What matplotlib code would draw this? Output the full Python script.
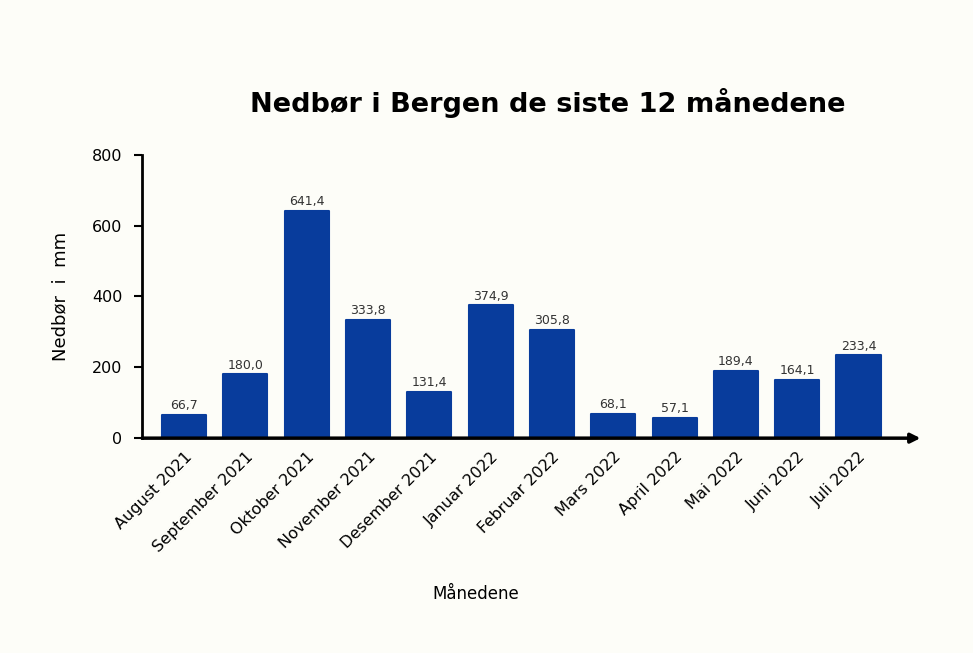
import matplotlib.pyplot as plt

months = ['August 2021', 'September 2021', 'Oktober 2021', 'November 2021',
          'Desember 2021', 'Januar 2022', 'Februar 2022', 'Mars 2022',
          'April 2022', 'Mai 2022', 'Juni 2022', 'Juli 2022']
nedbor = [66.7, 180.0, 641.4, 333.8, 131.4, 374.9, 305.8, 68.1, 57.1, 189.4, 164.1, 233.4]
yticks = [0, 200, 400, 600, 800]

bg = '#fdfdf8'
blue = '#083c9c'

fig = plt.figure(figsize=(9.73, 6.53), dpi=100, facecolor=bg)
ax = fig.add_axes([0.146, 0.329, 0.80, 0.434], facecolor=bg)

x = list(range(len(months)))
ax.bar(x, nedbor, width=0.72, color=blue, edgecolor=blue, linewidth=1.5,
       joinstyle='round', zorder=2)

for xi, v in zip(x, nedbor):
    ax.text(xi, v + 8, f'{v:.1f}'.replace('.', ','), ha='center', va='bottom',
            fontsize=9, color='#333333')

ax.set_xlim(-0.685, 12.01)
ax.set_ylim(0, 800)
ax.set_yticks(yticks)
ax.set_yticklabels([str(t) for t in yticks], fontsize=11.5)
ax.set_xticks(x)
ax.set_xticklabels(months, rotation=45, ha='right', rotation_mode='anchor', fontsize=11.5)
ax.tick_params(axis='x', length=0, pad=8)
ax.tick_params(axis='y', length=6, width=1.5, pad=8)

for s in ['top', 'right']:
    ax.spines[s].set_visible(False)
ax.spines['left'].set_linewidth(2)
ax.spines['bottom'].set_visible(False)
ax.annotate('', xy=(12.01, 0), xytext=(-0.685, 0), xycoords='data',
            arrowprops=dict(arrowstyle='-|>', color='black', lw=2.5,
                            mutation_scale=14, shrinkA=0, shrinkB=0),
            annotation_clip=False, zorder=3)

ax.set_ylabel('Nedbør  i  mm', fontsize=13, labelpad=16)
fig.text(0.489, 0.09, 'Månedene', ha='center', va='center', fontsize=12)
fig.text(0.563, 0.842, 'Nedbør i Bergen de siste 12 månedene', ha='center',
         va='center', fontsize=19.5, fontweight='bold')

fig.savefig('out.png', dpi=100, facecolor=bg)
